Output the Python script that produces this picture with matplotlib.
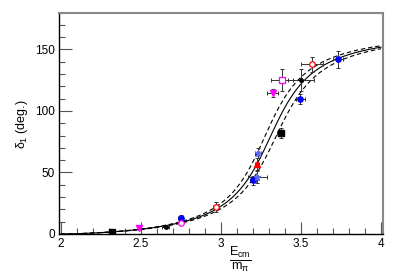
import numpy as np
import matplotlib
matplotlib.use("Agg")
import matplotlib.pyplot as plt
from matplotlib.ticker import MultipleLocator

plt.rcParams['font.family'] = ['Liberation Sans', 'DejaVu Sans']
plt.rcParams['mathtext.fontset'] = 'custom'
plt.rcParams['mathtext.rm'] = 'Liberation Sans'
plt.rcParams['mathtext.it'] = 'Liberation Sans'
plt.rcParams['mathtext.sf'] = 'Liberation Sans'

# ---- data points: (E/m_pi, delta, xerr, yerr) grouped by marker style ----
black_sq_E = [2.32, 3.373]
black_sq_d = [1.9, 82.3]
black_sq_xe = [0.01, 0.02]
black_sq_ye = [0.8, 4.0]

mag_tri_E = [2.49, 3.323]
mag_tri_d = [5.1, 114.5]
mag_tri_xe = [0.01, 0.035]
mag_tri_ye = [1.0, 3.0]

black_x_E = [2.654, 3.50]
black_x_d = [5.7, 125.0]
black_x_xe = [0.02, 0.08]
black_x_ye = [1.0, 9.0]

blue_c_E = [2.748, 3.200, 3.496, 3.733]
blue_c_d = [12.7, 43.6, 110.0, 142.0]
blue_c_xe = [0.015, 0.02, 0.03, 0.03]
blue_c_ye = [2.8, 3.5, 4.0, 7.0]

mag_oc_E = [2.750]
mag_oc_d = [8.7]
mag_oc_xe = [0.015]
mag_oc_ye = [1.5]

red_oc_E = [2.967, 3.57]
red_oc_d = [21.9, 138.0]
red_oc_xe = [0.02, 0.07]
red_oc_ye = [4.0, 6.0]

lblue_E = [3.227, 3.230]
lblue_d = [46.6, 66.0]
lblue_xe = [0.06, 0.02]
lblue_ye = [5.0, 4.0]

red_tri_E = [3.225]
red_tri_d = [57.0]
red_tri_xe = [0.015]
red_tri_ye = [5.0]

mag_sq_E = [3.381]
mag_sq_d = [125.0]
mag_sq_xe = [0.07]
mag_sq_ye = [9.0]

# ---- Breit-Wigner fit parameters (in units of m_pi) ----
M_fit = 3.348
dM = 0.036
g_fit = 6.1

def bw_phase(E, M, g):
    k = np.sqrt(E**2 / 4.0 - 1.0)
    gam = g**2 / (6 * np.pi) * k**3 / E**2
    return np.degrees(np.arctan2(E * gam, M**2 - E**2))

fig = plt.figure(figsize=(4.07, 2.77), dpi=100)
ax = fig.add_axes([59/407, (277-234)/277, (383-59)/407, (234-12.5)/277])

E = np.linspace(2.0, 4.0, 400)
ax.plot(E, bw_phase(E, M_fit, g_fit), color='black', lw=0.8, zorder=2)
ax.plot(E, bw_phase(E, M_fit - dM, g_fit), color='black', lw=0.8, ls=(0, (4, 2.5)), zorder=2)
ax.plot(E, bw_phase(E, M_fit + dM, g_fit), color='black', lw=0.8, ls=(0, (4, 2.5)), zorder=2)

def pts(x, y, xe, ye, **kw):
    ax.errorbar(x, y, xerr=xe, yerr=ye, fmt='none', ecolor='#333333',
                elinewidth=0.7, capsize=1.5, capthick=0.7, zorder=3)
    ax.plot(x, y, ls='none', zorder=4, **kw)

pts(black_sq_E, black_sq_d, black_sq_xe, black_sq_ye, marker='s', ms=3.8, color='black')
pts(mag_tri_E, mag_tri_d, mag_tri_xe, mag_tri_ye, marker='v', ms=4.2, color='magenta')
pts(black_x_E, black_x_d, black_x_xe, black_x_ye, marker='o', ms=2.5, color='black')
pts(blue_c_E, blue_c_d, blue_c_xe, blue_c_ye, marker='o', ms=3.8, color='blue')
pts(mag_oc_E, mag_oc_d, mag_oc_xe, mag_oc_ye, marker='o', ms=4, mfc='white', mec='magenta', mew=0.9)
pts(red_oc_E, red_oc_d, red_oc_xe, red_oc_ye, marker='o', ms=4, mfc='white', mec='red', mew=0.9)
pts(lblue_E, lblue_d, lblue_xe, lblue_ye, marker='*', ms=4.5, color='#5a6cf0')
pts(red_tri_E, red_tri_d, red_tri_xe, red_tri_ye, marker='^', ms=4.2, color='red')
pts(mag_sq_E, mag_sq_d, mag_sq_xe, mag_sq_ye, marker='s', ms=5, mfc='white', mec='magenta', mew=0.9)

ax.set_xlim(1.9875, 4.0125)
ax.set_ylim(0, 180)
ax.xaxis.set_minor_locator(MultipleLocator(0.1))
ax.yaxis.set_major_locator(MultipleLocator(50))
ax.yaxis.set_minor_locator(MultipleLocator(10))
ax.set_xticks([2, 2.5, 3, 3.5, 4])
ax.set_xticklabels(['2', '2.5', '3', '3.5', '4'])
ax.tick_params(which='both', direction='in', top=False, right=False, labelsize=8.5, color='#555555')
ax.tick_params(which='major', length=9, width=0.8)
ax.tick_params(which='minor', length=4.5, width=0.8)
ax.tick_params(axis='x', pad=3)
ax.tick_params(axis='y', pad=3)

for s in ['left', 'bottom']:
    ax.spines[s].set_color('black')
    ax.spines[s].set_linewidth(1.0)
for s in ['top', 'right']:
    ax.spines[s].set_color('#888888')
    ax.spines[s].set_linewidth(1.5)

fig.text(22/407, 1 - 124/277, r'$\delta_1$ (deg.)', rotation=90, ha='center', va='center', fontsize=9)
fig.text(240/407, 1 - 259/277, r'$\frac{\mathrm{E_{cm}}}{\mathrm{m}_{\pi}}$', ha='center', va='center', fontsize=13)

fig.savefig('out.png', dpi=100)
